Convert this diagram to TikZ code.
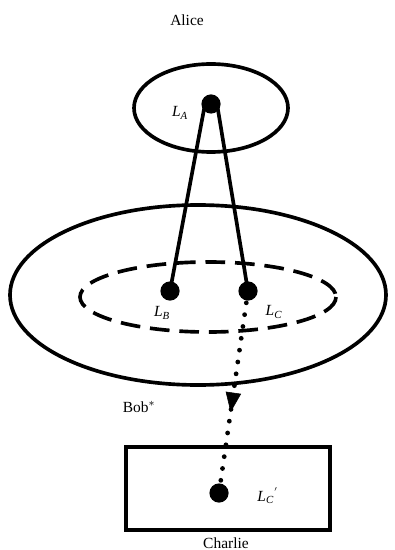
\documentclass[tikz,border=0pt]{standalone}
\usepackage{fontspec}
\setmainfont{Liberation Serif}
\usetikzlibrary{arrows.meta,decorations.markings}
\newcommand{\lbl}[2]{\textit{#1}\textsubscript{\textit{#2}}}
\begin{document}
\begin{tikzpicture}[x=0.025cm,y=-0.025cm,>=Triangle,
    pnt/.style={circle,fill,inner sep=0pt,minimum size=0.48cm},
    thk/.style={line width=2.6pt},
    dots/.style={line width=3.4pt,line cap=round,dash pattern=on 0pt off 8.5pt},
    midarrow/.style={postaction={decorate},decoration={markings,
        mark=at position 0.6 with {\arrow{Triangle[length=14pt,width=11pt]}}}}]
    \useasboundingbox (0,0) rectangle (394,550);
    \tikzset{every node/.style={font=\fontsize{11}{13}\selectfont}}
    % Alice
    \node (alice) at (187,20) {Alice};
    \draw[thk] (211,108) ellipse (77 and 44);
    \node[pnt] (LA) at (211,104) {};
    \node (LAl) at (180,113) {\lbl{L}{A}};
    % Bob
    \draw[thk] (198,295) ellipse (188 and 90);
    \draw[thk,dash pattern=on 14pt off 7pt] (208,297) ellipse (128 and 35);
    \node[pnt] (LB) at (170,291) {};
    \node[pnt] (LC) at (248,291) {};
    \node (LBl) at (162,313) {\lbl{L}{B}};
    \node (LCl) at (274,312) {\lbl{L}{C}};
    \node (bob) at (139,407) {Bob$^{*}$};
    \draw[thk] (LA.center) ++(-6,0) coordinate (la1) -- (LB.center);
    \draw[thk] (LA.center) ++(6,0) coordinate (la2) -- (LC.center);
    % Charlie
    \draw[thk] (126,447) rectangle (330,530);
    \node[pnt] (LCp) at (219,493) {};
    \node (LCpl) at (268,496) {\lbl{L}{C}$^{'}$};
    \node (charlie) at (226,543) {Charlie};
    \draw[dots] (LC.center) -- (LCp.center);
    \path[midarrow] (LC.center) -- (LCp.center);
\end{tikzpicture}
\end{document}
